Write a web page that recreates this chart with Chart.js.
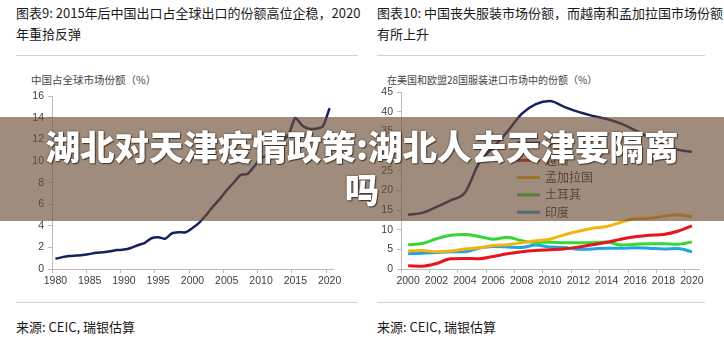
<!DOCTYPE html>
<html>
<head>
<meta charset="utf-8">
<script src="https://cdn.jsdelivr.net/npm/chart.js@4"></script>
<style>
body{margin:0;width:724px;height:338px;background:#fff;position:relative;overflow:hidden;
  font-family:"Noto Sans CJK SC","Noto Sans",sans-serif;color:#1a1a1a}
.t{position:absolute;font-size:13px;line-height:21px;white-space:nowrap}
.sep{position:absolute;height:1px;background:#d2d2d2}
.ax{position:absolute;line-height:14px;color:#444;white-space:nowrap}
.box{position:absolute}
#banner{position:absolute;left:0;top:117px;width:724px;height:104px;box-sizing:border-box;padding-top:7px;
  background:rgba(109,78,54,0.65);color:#fff;font-weight:900;font-size:34.5px;line-height:43px;text-align:center;
  text-shadow:0 0 2px rgba(40,30,20,.8),1px 1px 1px rgba(40,30,20,.7)}
</style>
</head>
<body>
<!-- 左：中国出口份额 -->
<div class="t" style="left:16px;top:2px">图表9: 2015年后中国出口占全球出口的份额高位企稳，2020<br>年重拾反弹</div>
<div class="sep" style="left:16px;top:55px;width:342px"></div>
<div class="ax" style="left:31px;top:73px;font-size:10.5px">中国占全球市场份额（%）</div>
<div class="box" style="left:0;top:86px"><canvas id="c1" width="345" height="205"></canvas></div>
<div class="sep" style="left:16px;top:302px;width:342px"></div>
<div class="t" style="left:16px;top:316px">来源: CEIC, 瑞银估算</div>

<!-- 右：服装进口市场份额 -->
<div class="t" style="left:377px;top:2px">图表10: 中国丧失服装市场份额，而越南和孟加拉国市场份额<br>有所上升</div>
<div class="sep" style="left:377px;top:55px;width:328px"></div>
<div class="ax" style="left:387px;top:73px;font-size:10px">在美国和欧盟28国服装进口市场中的份额（%）</div>
<div class="box" style="left:362px;top:82px"><canvas id="c2" width="350" height="209"></canvas></div>
<div class="sep" style="left:377px;top:302px;width:328px"></div>
<div class="t" style="left:377px;top:316px">来源: CEIC, 瑞银估算</div>

<div id="banner">湖北对天津疫情政策:湖北人去天津要隔离<br>吗</div>

<script>
// 图表9 数据
const yearsA = ['1980','1981','1982','1983','1984','1985','1986','1987','1988','1989',
  '1990','1991','1992','1993','1994','1995','1996','1997','1998','1999',
  '2000','2001','2002','2003','2004','2005','2006','2007','2008','2009',
  '2010','2011','2012','2013','2014','2015','2016','2017','2018','2019','2020'];
const shareA = [0.95,1.1,1.2,1.25,1.3,1.4,1.5,1.55,1.65,1.75,
  1.8,1.95,2.2,2.4,2.85,2.95,2.8,3.3,3.4,3.4,
  3.8,4.3,5.0,5.8,6.5,7.3,8.0,8.7,8.8,9.5,
  10.3,10.5,11.2,11.8,12.4,14.0,13.3,13.0,13.0,13.2,14.9];

// 图表10 数据
const yearsB = ['2000','2001','2002','2003','2004','2005','2006','2007','2008','2009','2010',
  '2011','2012','2013','2014','2015','2016','2017','2018','2019','2020'];
const china      = [13.8,14.3,15.8,17.5,19.4,27.0,31.0,35.0,39.5,42.0,42.8,41.3,40.0,39.0,38.2,37.0,35.3,33.5,31.8,30.4,29.8];
const vietnam    = [0.8,0.7,1.4,2.6,2.7,2.6,3.2,3.9,4.4,4.7,4.9,5.1,5.6,6.2,6.8,7.6,8.2,8.6,8.8,9.6,11.0];
const bangladesh = [4.6,4.7,4.4,4.6,5.1,5.4,6.0,6.2,6.7,7.2,7.6,8.7,9.6,10.4,10.8,11.9,12.8,12.9,13.4,13.8,13.3];
const turkey     = [6.2,6.5,7.7,8.6,8.8,8.3,7.6,8.1,7.2,6.8,6.8,6.7,6.7,6.7,6.9,6.1,6.3,6.4,6.4,6.3,6.9];
const india      = [3.9,4.0,4.2,4.4,4.4,5.3,5.7,5.6,5.5,6.1,5.6,5.5,5.0,5.1,5.3,5.3,5.4,5.3,5.1,5.2,4.4];
const namesB  = ['中国','越南','孟加拉国','土耳其','印度'];
const colorsB = ['#15235e','#e8161c','#f5b30f','#34d834','#1fa5e3'];

Chart.defaults.font.family = "'Liberation Sans', Arial, sans-serif";
Chart.defaults.font.size = 10.5;
Chart.defaults.color = '#404040';

const AXIS = '#bdbdbd';

function xScale(step) {
  return {
    type: 'category', offset: true,
    border: { color: AXIS },
    grid: { offset: true, drawOnChartArea: false, tickLength: 4,
      tickColor: c => c.index % step === 0 ? AXIS : 'rgba(0,0,0,0)' },
    ticks: { autoSkip: false, maxRotation: 0, padding: 2,
      callback: function (v, i) { return i % step === 0 ? this.getLabelForValue(v) : ''; } },
    afterFit: s => { s.height = 22; }
  };
}
function yScale(max, step, w) {
  return {
    min: 0, max: max,
    border: { color: AXIS },
    grid: { drawOnChartArea: false, tickLength: 4, tickColor: AXIS },
    ticks: { stepSize: step, padding: 4 },
    afterFit: s => { s.width = w; }
  };
}

new Chart(document.getElementById('c1'), {
  type: 'line',
  data: { labels: yearsA, datasets: [
    { data: shareA, borderColor: '#14215e', borderWidth: 2.5, pointRadius: 0, tension: 0.2 }
  ]},
  options: {
    responsive: false, animation: false,
    layout: { padding: { top: 10, right: 12, left: 0, bottom: 0 } },
    plugins: { legend: { display: false }, tooltip: { enabled: false } },
    scales: { x: xScale(5), y: yScale(16, 2, 52) }
  }
});

// 图例画在绘图区内
const innerLegend = {
  id: 'innerLegend',
  afterDraw(chart) {
    const ctx = chart.ctx;
    ctx.save();
    ctx.font = "12px 'Noto Sans CJK SC'";
    ctx.textBaseline = 'middle';
    chart.data.datasets.forEach((d, i) => {
      const y = 61 + i * 17.3;
      ctx.strokeStyle = d.borderColor;
      ctx.lineWidth = 3;
      ctx.beginPath(); ctx.moveTo(155, y); ctx.lineTo(178, y); ctx.stroke();
      ctx.fillStyle = '#333';
      ctx.fillText(d.label, 183, y);
    });
    ctx.restore();
  }
};

const seriesB = [china, vietnam, bangladesh, turkey, india];
new Chart(document.getElementById('c2'), {
  type: 'line',
  data: { labels: yearsB, datasets: seriesB.map((s, i) => ({
    label: namesB[i], data: s, borderColor: colorsB[i], borderWidth: i === 0 ? 2.5 : 3,
    pointRadius: 0, cubicInterpolationMode: 'monotone'
  }))},
  options: {
    responsive: false, animation: false,
    layout: { padding: { top: 10, right: 13, left: 0, bottom: 0 } },
    plugins: { legend: { display: false }, tooltip: { enabled: false } },
    scales: { x: xScale(2), y: yScale(45, 5, 39) }
  },
  plugins: [innerLegend]
});
</script>
</body>
</html>
